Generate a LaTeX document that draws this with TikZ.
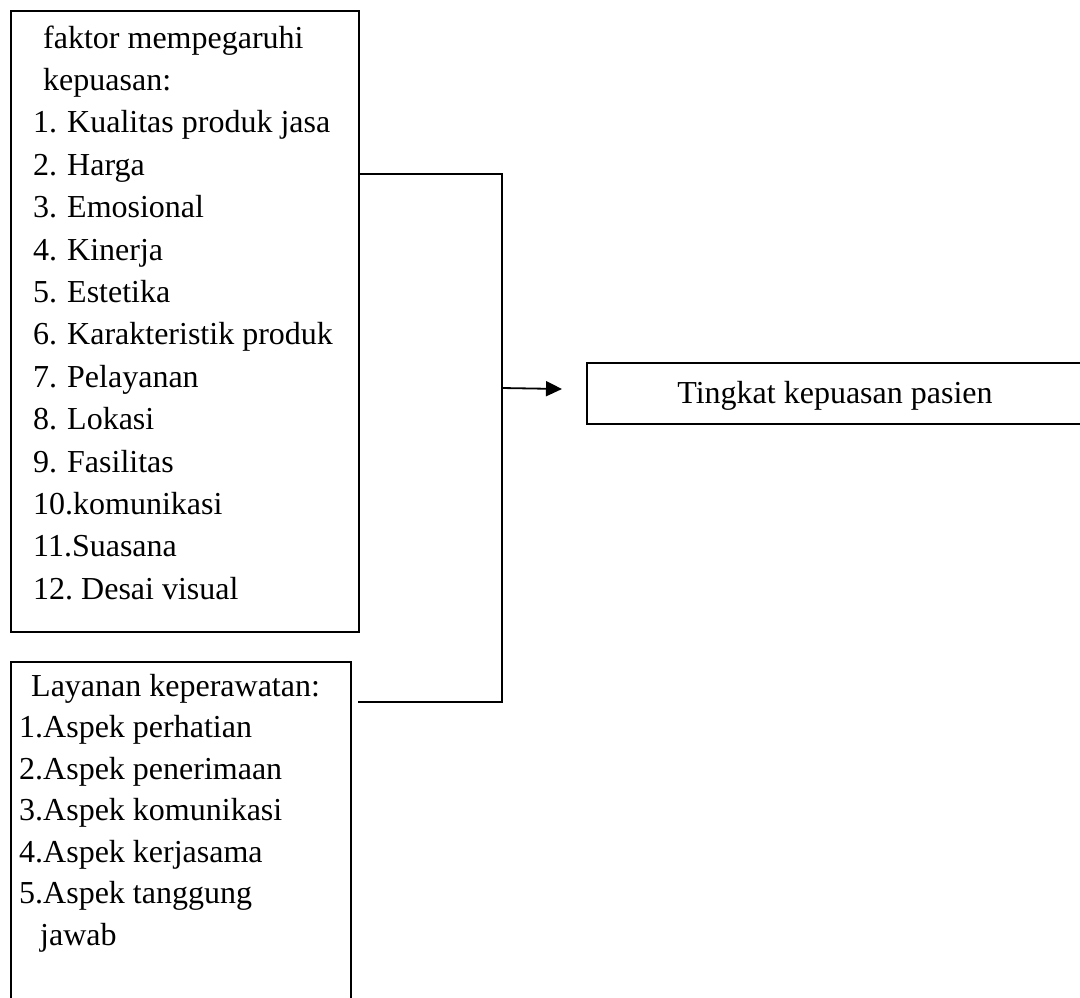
\documentclass[tikz,border=0pt]{standalone}
\usepackage{fontspec}
\setmainfont{Liberation Serif}
\usetikzlibrary{arrows.meta}
\frenchspacing
\begin{document}
\begin{tikzpicture}[x=1pt,y=-1pt,
  box/.style={draw,line width=1.7pt,rectangle,anchor=north west,inner sep=0pt},
  txt/.style={anchor=base west,inner sep=0pt,font=\fontsize{32}{38}\selectfont},
  conn/.style={line width=1.8pt}]
\useasboundingbox (0,0) rectangle (1080,997);
% boxes
\node[box,minimum width=348pt,minimum height=621pt] (b1) at (10,10) {};
\node[box,minimum width=340pt,minimum height=400pt] (b2) at (10,661) {};
\node[box,minimum width=498pt,minimum height=61pt] (b3) at (586,362) {};
% box 1 text
\node[txt] (h1) at (43,48) {faktor mempegaruhi};
\node[txt] (h2) at (43,90.4) {kepuasan:};
\node[txt] (n1) at (33,132.8) {1.};  \node[txt] (i1) at (67,132.8) {Kualitas produk jasa};
\node[txt] (n2) at (33,175.2) {2.};  \node[txt] (i2) at (67,175.2) {Harga};
\node[txt] (n3) at (33,217.6) {3.};  \node[txt] (i3) at (67,217.6) {Emosional};
\node[txt] (n4) at (33,260) {4.};    \node[txt] (i4) at (67,260) {Kinerja};
\node[txt] (n5) at (33,302.4) {5.};  \node[txt] (i5) at (67,302.4) {Estetika};
\node[txt] (n6) at (33,344.8) {6.};  \node[txt] (i6) at (67,344.8) {Karakteristik produk};
\node[txt] (n7) at (33,387.2) {7.};  \node[txt] (i7) at (67,387.2) {Pelayanan};
\node[txt] (n8) at (33,429.6) {8.};  \node[txt] (i8) at (67,429.6) {Lokasi};
\node[txt] (n9) at (33,472) {9.};    \node[txt] (i9) at (67,472) {Fasilitas};
\node[txt] (i10) at (33,514.4) {10.komunikasi};
\node[txt] (i11) at (33,556.8) {11.Suasana};
\node[txt] (i12) at (33,599.2) {12. Desai visual};
% box 2 text
\node[txt] (l0) at (31,696) {Layanan keperawatan:};
\node[txt] (l1) at (19,737.5) {1.Aspek perhatian};
\node[txt] (l2) at (19,779) {2.Aspek penerimaan};
\node[txt] (l3) at (19,820.5) {3.Aspek komunikasi};
\node[txt] (l4) at (19,862) {4.Aspek kerjasama};
\node[txt] (l5) at (19,903.5) {5.Aspek tanggung};
\node[txt] (l6) at (40,945) {jawab};
% box 3 text
\node[anchor=base,inner sep=0pt,font=\fontsize{32}{38}\selectfont] (t3) at (835,403) {Tingkat kepuasan pasien};
% connectors
\coordinate (s1) at (b1.east |- 0,174);
\coordinate (j1) at (502,174);
\coordinate (j2) at (502,702);
\coordinate (s2) at (358,702);
\draw[conn] (s1) -- (j1) -- (j2) -- (s2);
\coordinate (a1) at (502,388);
\coordinate (a2) at (562,389);
\draw[conn,-{Triangle[length=16pt,width=15pt]}] (a1) -- (a2);
\end{tikzpicture}
\end{document}
